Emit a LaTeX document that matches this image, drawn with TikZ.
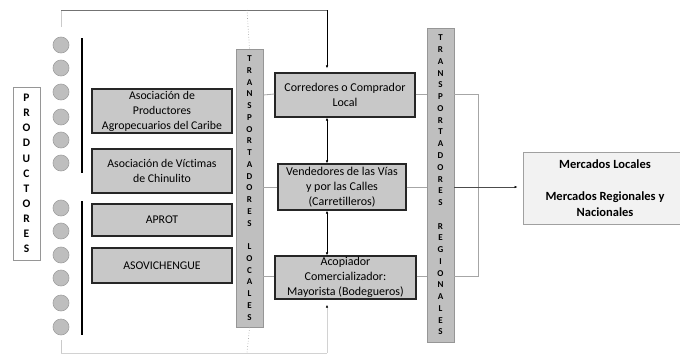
\documentclass[tikz,border=0pt]{standalone}
\usepackage{fontspec}
\setmainfont{Carlito}[Ligatures=NoCommon]
\usetikzlibrary{arrows.meta}
\definecolor{boxfill}{RGB}{200,200,200}
\definecolor{barfill}{RGB}{191,191,191}
\definecolor{barline}{RGB}{150,150,150}
\definecolor{circfill}{RGB}{190,190,190}
\definecolor{circline}{RGB}{160,160,160}
\definecolor{mercfill}{RGB}{242,242,242}
\definecolor{mercline}{RGB}{160,160,160}
\definecolor{conn}{RGB}{166,166,166}
\definecolor{darkline}{RGB}{38,38,38}
\begin{document}
\begin{tikzpicture}[x=1pt,y=-1pt,
  assoc/.style={draw=darkline,line width=1.3pt,fill=boxfill,inner sep=0pt,align=center,
    font=\fontsize{11.8}{15}\selectfont},
  midbox/.style={draw=darkline,line width=1.3pt,fill=boxfill,inner sep=0pt,align=center,
    font=\fontsize{12}{15.3}\selectfont},
  bar/.style={draw=barline,line width=0.7pt,fill=barfill,inner sep=0pt,align=center,
    minimum width=27pt,font=\fontsize{9}{11.76}\selectfont\bfseries},
  prodbox/.style={draw=barline,line width=0.7pt,fill=white,inner sep=0pt,align=center,
    minimum width=27pt,minimum height=173pt,font=\fontsize{11.5}{15.1}\selectfont\bfseries},
  circ/.style={circle,draw=circline,line width=0.6pt,fill=circfill,minimum size=16pt,inner sep=0pt},
  merc/.style={draw=mercline,line width=0.8pt,fill=mercfill,inner sep=0pt,align=center,
    font=\fontsize{12.5}{16}\selectfont\bfseries},
  gline/.style={draw=conn,line width=0.8pt},
  dline/.style={draw=conn,line width=0.7pt,dotted},
  arr/.style={draw=black,line width=0.5pt,-{Latex[length=3pt,width=2.5pt]}},
  darr/.style={draw=black,line width=0.5pt,{Latex[length=3pt,width=2.5pt]}-{Latex[length=3pt,width=2.5pt]}},
  stick/.style={draw=black,line width=1.5pt}
]
\useasboundingbox (0,0) rectangle (680,356);

% Productores
\node[prodbox] (prod) at (26.5,173.5) {P\\R\\O\\D\\U\\C\\T\\O\\R\\E\\S};

% circles
\foreach \i/\y in {1/45,2/68,3/92,4/117,5/140,6/163,7/208,8/231,9/255,10/278,11/303,12/327}
  \node[circ] (c\i) at (61,\y) {};

% black bars
\coordinate (s1a) at (82,38); \coordinate (s1b) at (82,173);
\coordinate (s2a) at (82,201); \coordinate (s2b) at (82,335);
\draw[stick] (s1a) -- (s1b);
\draw[stick] (s2a) -- (s2b);

% associations
\node[assoc,minimum width=140pt,minimum height=44pt] (a1) at (162,111) {Asociación de\\Productores\\Agropecuarios del Caribe};
\node[assoc,minimum width=140pt,minimum height=44pt] (a2) at (162,171) {Asociación de Víctimas\\de Chinulito};
\node[assoc,minimum width=140pt,minimum height=32pt] (a3) at (162,220) {APROT};
\node[assoc,minimum width=140pt,minimum height=35pt] (a4) at (162,265.5) {ASOVICHENGUE};

% coordinates for connectors
\coordinate (tl0) at (61,27);
\coordinate (tlc) at (61,10);
\coordinate (trc) at (327,10);
\coordinate (dtop) at (247,10);
\coordinate (bl0) at (61,340);
\coordinate (blc) at (61,353);
\coordinate (brc) at (327,353);
\coordinate (dbot) at (247,353);
\coordinate (rc1) at (478,94);
\coordinate (rc2) at (478,276);

% top and bottom lines (behind)
\draw[draw=conn!60,line width=0.8pt] (tl0) -- (tlc);
\draw[draw=black!55,line width=0.7pt] (tlc) -- (trc);
\draw[draw=conn!60,line width=0.8pt] (bl0) -- (blc);
\draw[draw=conn!50,line width=0.6pt] (blc) -- (brc);

% local transport bar
\node[bar,minimum height=278pt] (tl) at (249.5,188) {T\\R\\A\\N\\S\\P\\O\\R\\T\\A\\D\\O\\R\\E\\S\\\mbox{}\\L\\O\\C\\A\\L\\E\\S};

% regional transport bar
\node[bar,minimum height=314pt] (tr) at (440.5,185) {T\\R\\A\\N\\S\\P\\O\\R\\T\\A\\D\\O\\R\\E\\S\\\mbox{}\\R\\E\\G\\I\\O\\N\\A\\L\\E\\S};

% middle boxes
\node[midbox,minimum width=140pt,minimum height=44pt] (m1) at (345,95) {Corredores o Comprador\\Local};
\node[midbox,minimum width=128pt,minimum height=46pt] (m2) at (342,187) {Vendedores de las Vías\\y por las Calles\\(Carretilleros)};
\node[midbox,minimum width=141pt,minimum height=43pt] (m3) at (345.5,277.5) {Acopiador\\Comercializador:\\Mayorista (Bodegueros)};

% markets
\node[merc,minimum width=164pt,minimum height=72pt] (mk) at (605,188) {Mercados Locales\\\mbox{}\\Mercados Regionales y\\Nacionales};

% dotted lines to local bar
\draw[dline] (dtop) -- (tl.north);
\draw[dline] (tl.south) -- (dbot);

% top and bottom arrows
\draw[arr,shorten >=4pt] (trc) -- (trc |- m1.north);
\draw[draw=conn!50,line width=0.6pt,-{Latex[length=3pt,width=2.4pt,color=black]},shorten >=5pt] (brc) -- (brc |- m3.south);

% vertical double arrows
\draw[darr] (m1.south -| trc) -- (m2.north -| trc);
\draw[darr] (m2.south -| trc) -- (m3.north -| trc);

% horizontal connectors
\draw[gline] (tl.east |- m1.west) -- (m1.west |- rc1);
\draw[gline] (tl.east |- m2.west) -- (m2.west);
\draw[gline] (tl.east |- rc2) -- (m3.west |- rc2);
\draw[gline] (m1.east |- rc1) -- (tr.west |- rc1);
\draw[gline] (m3.east |- rc2) -- (tr.west |- rc2);
\draw[gline] (m2.east) -- (tr.west |- m2.east);
\draw[gline] (tr.east |- rc1) -- (rc1) -- (rc2) -- (tr.east |- rc2);
\draw[draw=black!70,line width=0.6pt,-{Latex[length=3pt,width=2.4pt,color=black]},shorten >=5pt] (tr.east |- m2.east) -- (mk.west |- m2.east);
\end{tikzpicture}
\end{document}
